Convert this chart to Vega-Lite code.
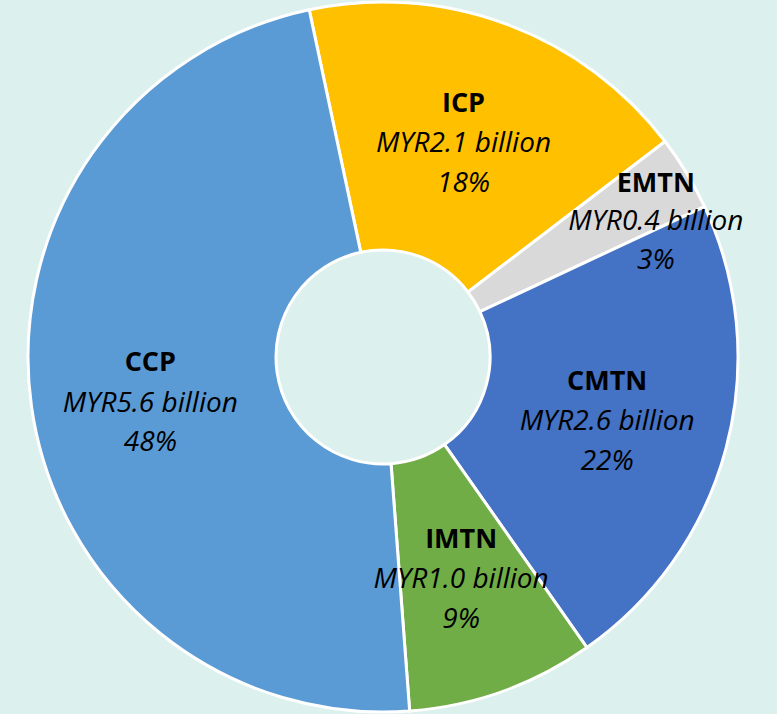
{
  "$schema": "https://vega.github.io/schema/vega-lite/v6.json",
  "autosize": {"type": "fit", "contains": "padding"},
  "width": 777,
  "height": 714,
  "padding": {"left": 0, "right": 11, "top": 0, "bottom": 0},
  "background": "#DCF0EE",
  "view": {"stroke": null},
  "data": {
    "values": [
      {"cat": "ICP", "ord": 1, "value": 2.1, "amount": "MYR2.1 billion", "share": "18%"},
      {"cat": "EMTN", "ord": 2, "value": 0.4, "amount": "MYR0.4 billion", "share": "3%"},
      {"cat": "CMTN", "ord": 3, "value": 2.6, "amount": "MYR2.6 billion", "share": "22%"},
      {"cat": "IMTN", "ord": 4, "value": 1.0, "amount": "MYR1.0 billion", "share": "9%"},
      {"cat": "CCP", "ord": 5, "value": 5.6, "amount": "MYR5.6 billion", "share": "48%"}
    ]
  },
  "encoding": {
    "theta": {"field": "value", "type": "quantitative", "stack": true, "scale": {"range": [-0.2094, 6.0738]}},
    "order": {"field": "ord", "type": "quantitative"}
  },
  "layer": [
    {
      "mark": {"type": "arc", "outerRadius": 355, "innerRadius": 107, "stroke": "white", "strokeWidth": 3},
      "encoding": {
        "color": {
          "field": "cat", "type": "nominal", "legend": null,
          "scale": {"domain": ["ICP", "EMTN", "CMTN", "IMTN", "CCP"], "range": ["#FFC000", "#D9D9D9", "#4472C4", "#70AD47", "#5B9BD5"]}
        }
      }
    },
    {
      "mark": {"type": "text", "radius": {"expr": "datum.cat == 'EMTN' ? 305 : 232"}, "dx": {"expr": "datum.cat == 'EMTN' ? 12 : datum.cat == 'CCP' ? -3 : 0"}, "dy": {"expr": "datum.cat == 'EMTN' ? -15 : datum.cat == 'CCP' ? -27 : -35"}, "font": "Open Sans", "fontSize": 27, "fontWeight": "bold", "color": "black"},
      "encoding": {"text": {"field": "cat"}}
    },
    {
      "mark": {"type": "text", "radius": {"expr": "datum.cat == 'EMTN' ? 305 : 232"}, "dx": {"expr": "datum.cat == 'EMTN' ? 12 : datum.cat == 'CCP' ? -3 : 0"}, "dy": {"expr": "datum.cat == 'EMTN' ? 23 : datum.cat == 'CCP' ? 14 : 5"}, "font": "Open Sans", "fontSize": 28, "fontStyle": "italic", "color": "black"},
      "encoding": {"text": {"field": "amount"}}
    },
    {
      "mark": {"type": "text", "radius": {"expr": "datum.cat == 'EMTN' ? 305 : 232"}, "dx": {"expr": "datum.cat == 'EMTN' ? 12 : datum.cat == 'CCP' ? -3 : 0"}, "dy": {"expr": "datum.cat == 'EMTN' ? 62 : datum.cat == 'CCP' ? 53 : 45"}, "font": "Open Sans", "fontSize": 28, "fontStyle": "italic", "color": "black"},
      "encoding": {"text": {"field": "share"}}
    }
  ]
}
